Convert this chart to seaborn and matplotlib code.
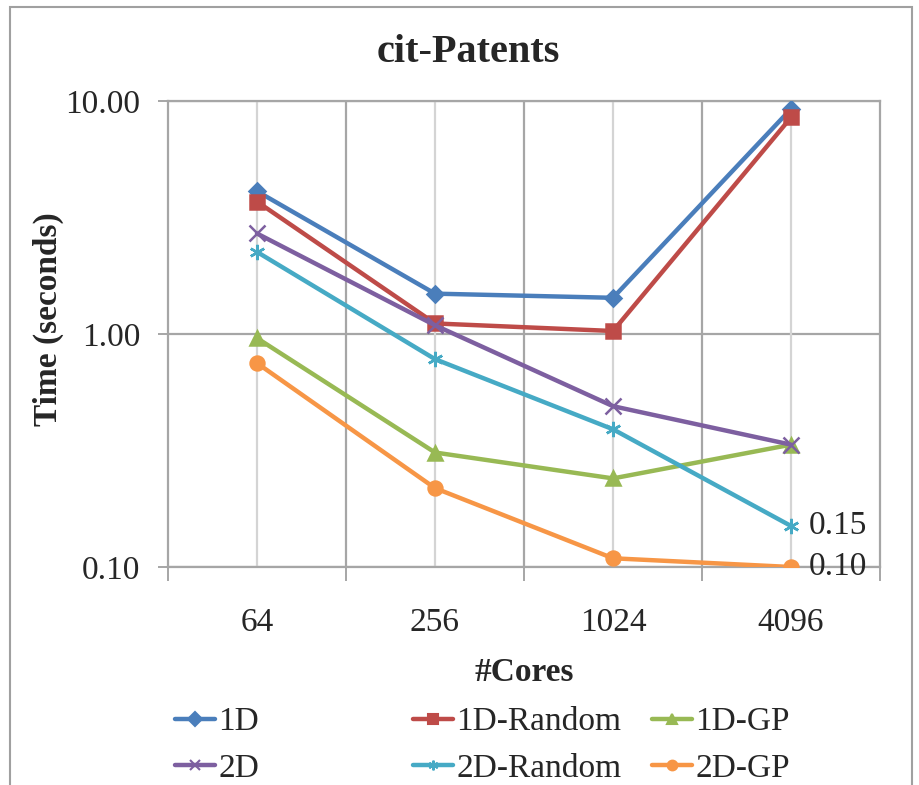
import numpy as np
import pandas as pd
import matplotlib.pyplot as plt
import seaborn as sns
from matplotlib.patches import Rectangle
from matplotlib.lines import Line2D
from matplotlib.ticker import FixedLocator, NullLocator

cores = ['64', '256', '1024', '4096']
series = ['1D', '1D-Random', '1D-GP', '2D', '2D-Random', '2D-GP']
t_1d = [4.1, 1.49, 1.43, 9.25]
t_1d_random = [3.7, 1.11, 1.03, 8.5]
t_1d_gp = [0.96, 0.31, 0.24, 0.335]
t_2d = [2.7, 1.09, 0.49, 0.335]
t_2d_random = [2.25, 0.78, 0.39, 0.15]
t_2d_gp = [0.75, 0.218, 0.109, 0.10]

colors = ['#4a7ebb', '#be4b48', '#98b954', '#7d5fa0', '#46aac5', '#f79646']
markers = ['D', 's', '^', 'x', (6, 2, 0), 'o']
msizes = [8, 10, 10, 11, 11, 10]

rows = []
for name, vals in zip(series, [t_1d, t_1d_random, t_1d_gp, t_2d, t_2d_random, t_2d_gp]):
    for i, v in enumerate(vals):
        rows.append({'series': name, 'pos': i, 'time': v})
df = pd.DataFrame(rows)

sns.set_style('white')
plt.rcParams['font.family'] = ['Liberation Serif', 'DejaVu Serif']

fig = plt.figure(figsize=(9.2, 7.85), dpi=100)
ax = fig.add_axes([168/920, 218/785, 712/920, 466/785])

for k, name in enumerate(series):
    sns.lineplot(data=df[df.series == name], x='pos', y='time', color=colors[k],
                 marker=markers[k], markersize=msizes[k], markeredgecolor=colors[k],
                 markeredgewidth=1.8, linewidth=3.2, ax=ax, legend=False, zorder=3 + k)

ax.set_yscale('log')
ax.set_ylim(0.1, 10)
ax.set_xlim(-0.5, 3.5)
ax.yaxis.set_major_locator(FixedLocator([0.1, 1, 10]))
ax.yaxis.set_minor_locator(NullLocator())
ax.set_yticklabels(['0.10', '1.00', '10.00'])
ax.set_xticks([-0.5, 0.5, 1.5, 2.5, 3.5])
ax.set_xticklabels([])
ax.set_xticks([0, 1, 2, 3], minor=True)
ax.set_xticklabels(cores, minor=True)
ax.tick_params(axis='x', which='major', length=10, width=1.4, color='#a6a6a6', direction='out')
ax.tick_params(axis='x', which='minor', length=0, labelsize=24, pad=29)
ax.tick_params(axis='y', which='major', length=7, width=1.4, color='#a6a6a6', direction='out',
               labelsize=24, pad=13)
ax.tick_params(bottom=True, left=True)

ax.grid(False)
for y in [0.1, 1, 10]:
    ax.axhline(y, color='#a6a6a6', lw=1.6, zorder=1)
for x in [0.5, 1.5, 2.5]:
    ax.axvline(x, color='#a6a6a6', lw=1.6, zorder=1)
for x in [0, 1, 2, 3]:
    ax.axvline(x, color='#d4d4d4', lw=1.6, zorder=1)
for s in ax.spines.values():
    s.set_color('#a6a6a6')
    s.set_linewidth(1.6)

ax.annotate('0.15', (3, t_2d_random[3]), xytext=(13, 0), textcoords='offset points',
            va='center', ha='left', fontsize=24, annotation_clip=False)
ax.annotate('0.10', (3, t_2d_gp[3]), xytext=(13, 0), textcoords='offset points',
            va='center', ha='left', fontsize=24, annotation_clip=False)

ax.set_xlabel('#Cores', fontsize=24, fontweight='bold', labelpad=14)
ax.set_ylabel('')
fig.text(48/920, 1 - 319/785, 'Time (seconds)', rotation=90, fontsize=24, fontweight='bold',
         ha='center', va='center')
fig.text(468/920, 1 - 52/785, 'cit-Patents', fontsize=29, fontweight='bold',
         ha='center', va='center')

# legend in three columns placed like the original
order = [[0, 3], [1, 4], [2, 5]]
col_x = [175, 413, 652]
for cols, x0 in zip(order, col_x):
    hs = [Line2D([], [], color=colors[k], marker=markers[k], markersize=7,
                 markeredgecolor=colors[k], markeredgewidth=1.5, lw=3.2) for k in cols]
    fig.legend(hs, [series[k] for k in cols], loc='upper left',
               bbox_to_anchor=(x0/920, 1 - 707/785), frameon=False, fontsize=24,
               handlelength=1.2, handletextpad=0.1, labelspacing=0.48,
               borderpad=0, borderaxespad=0)

fig.add_artist(Rectangle((10/920, -0.05), 902/920, 1.05 - 7/785, transform=fig.transFigure,
                         fill=False, edgecolor='#a0a0a0', lw=1.5))

fig.savefig('out.png', dpi=100)
